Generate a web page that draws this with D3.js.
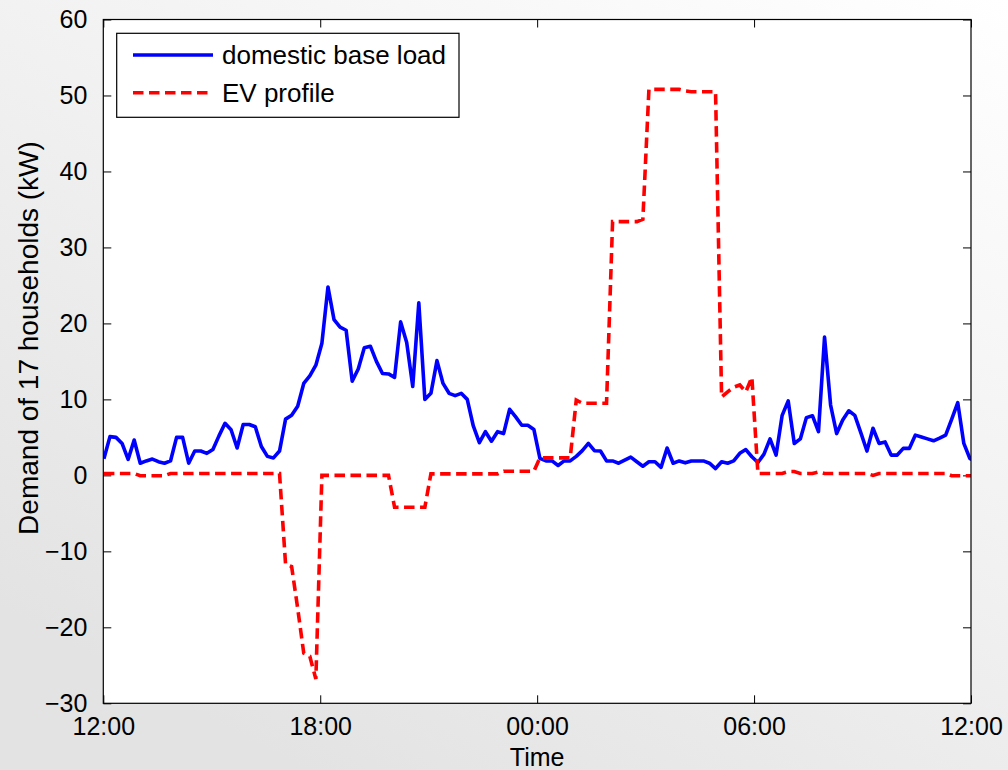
<!DOCTYPE html>
<html>
<head>
<meta charset="utf-8">
<script src="https://cdn.jsdelivr.net/npm/d3@7"></script>
<style>
  body { margin: 0; }
  text { font-family: "Liberation Sans", Arial, sans-serif; fill: #000; }
</style>
</head>
<body>
<div id="chart"></div>
<script>
const widthValue = 1008;
const heightValue = 770;
const margin = {top: 19.5, right: 37, bottom: 66.7, left: 103.3};

// samples as plotted in the source: first at 12:01, roughly every 10 minutes
const sampleStart = 1;     // minutes after 12:00
const sampleStep = 10.05;  // minutes

const baseLoad = [
  2.2, 5.1, 5.0, 4.2, 2.1, 4.65, 1.6, 1.9, 2.15, 1.8,
  1.6, 1.9, 5.0, 5.0, 1.6, 3.2, 3.2, 2.9, 3.4, 5.2,
  6.85, 6.0, 3.6, 6.7, 6.7, 6.4, 3.8, 2.5, 2.3, 3.2,
  7.4, 7.9, 9.1, 12.1, 13.1, 14.5, 17.4, 24.8, 20.5, 19.5,
  19.1, 12.4, 14.0, 16.8, 17.0, 15.0, 13.4, 13.35, 12.9, 20.2,
  17.5, 11.7, 22.7, 10.0, 10.8, 15.1, 12.1, 10.8, 10.5, 10.8,
  10.0, 6.5, 4.3, 5.75, 4.5, 5.75, 5.5, 8.7, 7.7, 6.6,
  6.6, 6.05, 2.24, 1.9, 1.9, 1.3, 1.9, 1.9, 2.5, 3.25,
  4.2, 3.25, 3.2, 1.9, 1.9, 1.6, 2.0, 2.4, 1.8, 1.2,
  1.8, 1.8, 1.05, 3.6, 1.6, 1.9, 1.65, 1.9, 1.9, 1.9,
  1.6, 0.9, 1.8, 1.6, 1.9, 2.9, 3.4, 2.45, 1.7, 2.8,
  4.8, 2.67, 7.9, 9.8, 4.2, 4.8, 7.6, 7.85, 5.75, 18.2,
  9.26, 5.5, 7.3, 8.5, 7.9, 5.6, 3.2, 6.2, 4.2, 4.4,
  2.67, 2.67, 3.55, 3.55, 5.3, 5.05, 4.8, 4.55, 4.9, 5.3,
  7.4, 9.57, 4.2, 2.2, 1.9
];
const evProfile = [
  0.25, 0.25, 0.25, 0.25, 0.25, 0.25, -0.05, -0.05, -0.05, -0.05,
  -0.05, 0.25, 0.25, 0.25, 0.25, 0.25, 0.25, 0.25, 0.25, 0.25,
  0.25, 0.25, 0.25, 0.25, 0.25, 0.25, 0.25, 0.25, 0.25, 0.25,
  -11.7, -12.0, -17.5, -23.4, -23.8, -26.8, 0, 0, 0, 0,
  0, 0, 0, 0, 0, 0, 0, 0, -4.2, -4.2,
  -4.2, -4.2, -4.2, -4.2, 0.2, 0.2, 0.2, 0.2, 0.2, 0.2,
  0.2, 0.2, 0.2, 0.2, 0.2, 0.2, 0.55, 0.55, 0.55, 0.55,
  0.55, 0.55, 2.3, 2.3, 2.3, 2.3, 2.3, 2.3, 9.9, 9.5,
  9.5, 9.5, 9.5, 9.5, 33.4, 33.4, 33.4, 33.4, 33.4, 33.7,
  50.8, 50.8, 50.8, 50.8, 50.8, 50.8, 50.6, 50.5, 50.5, 50.5,
  50.5, 50.5, 10.3, 11.0, 11.6, 11.9, 11.0, 12.9, 0.25, 0.25,
  0.25, 0.25, 0.25, 0.5, 0.5, 0.25, 0.25, 0.25, 0.45, 0.25,
  0.25, 0.25, 0.25, 0.25, 0.25, 0.25, 0.25, 0.0, 0.25, 0.25,
  0.25, 0.25, 0.25, 0.25, 0.25, 0.25, 0.25, 0.25, 0.25, 0.25,
  -0.05, -0.05, -0.05, -0.05, -0.05
];
const yTicks = [-30, -20, -10, 0, 10, 20, 30, 40, 50, 60];
const seriesNames = ["domestic base load", "EV profile"];

const t0 = new Date(2000, 0, 1, 12, 0);
const t1 = new Date(2000, 0, 2, 12, 0);
const times = baseLoad.map((d, i) =>
  new Date(t0.getTime() + (sampleStart + i * sampleStep) * 60000));

const svg = d3.select("#chart")
  .append("svg")
  .attr("width", widthValue)
  .attr("height", heightValue);

// grey figure background
const grad = svg.append("defs").append("linearGradient")
  .attr("id", "bg")
  .attr("x1", 1).attr("y1", 0).attr("x2", 0.3).attr("y2", 1);
grad.append("stop").attr("offset", 0).attr("stop-color", "#ffffff");
grad.append("stop").attr("offset", 1).attr("stop-color", "#e3e3e3");
svg.append("rect")
  .attr("width", widthValue).attr("height", heightValue)
  .attr("fill", "url(#bg)");

var x = d3.scaleTime()
  .domain([t0, t1])
  .range([margin.left, widthValue - margin.right]);
var y = d3.scaleLinear()
  .domain([-30, 60])
  .range([heightValue - margin.bottom, margin.top]);

const x0 = margin.left, x1 = widthValue - margin.right;
const y0 = margin.top, y1 = heightValue - margin.bottom;

svg.append("rect")
  .attr("x", x0).attr("y", y0)
  .attr("width", x1 - x0).attr("height", y1 - y0)
  .attr("fill", "white");

const tickLen = 8;
const xTickVals = d3.timeHour.every(6).range(t0, d3.timeMinute.offset(t1, 1));
const fmt = d3.timeFormat("%H:%M");

// axes (MATLAB style, ticks inside on all sides)
function styleAxis(g) {
  g.select(".domain").remove();
  g.selectAll(".tick line").attr("stroke", "#000").attr("stroke-width", 1);
  g.selectAll(".tick text")
    .style("font-family", "'Liberation Sans', Arial, sans-serif")
    .style("font-size", "25px")
    .attr("fill", "#000");
}

svg.append("g")
  .attr("transform", `translate(0,${y1})`)
  .call(d3.axisBottom(x).tickValues(xTickVals).tickFormat(fmt)
    .tickSizeInner(-tickLen).tickSizeOuter(0).tickPadding(14))
  .call(styleAxis);
svg.append("g")
  .attr("transform", `translate(0,${y0})`)
  .call(d3.axisTop(x).tickValues(xTickVals).tickFormat("")
    .tickSizeInner(-tickLen).tickSizeOuter(0))
  .call(styleAxis);
svg.append("g")
  .attr("transform", `translate(${x0},0)`)
  .call(d3.axisLeft(y).tickValues(yTicks)
    .tickSizeInner(-tickLen).tickSizeOuter(0).tickPadding(16))
  .call(styleAxis);
svg.append("g")
  .attr("transform", `translate(${x1},0)`)
  .call(d3.axisRight(y).tickValues(yTicks).tickFormat("")
    .tickSizeInner(-tickLen).tickSizeOuter(0))
  .call(styleAxis);

// clip to plot box
svg.append("clipPath").attr("id", "clip")
  .append("rect").attr("x", x0).attr("y", y0)
  .attr("width", x1 - x0).attr("height", y1 - y0);

const line = d3.line()
  .x((d, i) => x(times[i]))
  .y(d => y(d));

svg.append("path")
  .datum(baseLoad)
  .attr("clip-path", "url(#clip)")
  .attr("fill", "none")
  .attr("stroke", "#0000ff")
  .attr("stroke-width", 3.6)
  .attr("stroke-linejoin", "round")
  .attr("d", line);

svg.append("path")
  .datum(evProfile)
  .attr("clip-path", "url(#clip)")
  .attr("fill", "none")
  .attr("stroke", "#ff0000")
  .attr("stroke-width", 3.6)
  .attr("stroke-dasharray", "10.5,5.5")
  .attr("d", line);

// plot box
svg.append("rect")
  .attr("x", x0).attr("y", y0)
  .attr("width", x1 - x0).attr("height", y1 - y0)
  .attr("fill", "none").attr("stroke", "#000").attr("stroke-width", 1.2);

// axis labels
svg.append("text")
  .attr("x", (x0 + x1) / 2).attr("y", 766)
  .attr("text-anchor", "middle")
  .style("font-size", "25px")
  .text("Time");
svg.append("text")
  .attr("transform", "translate(38,338) rotate(-90)")
  .attr("text-anchor", "middle")
  .style("font-size", "28px")
  .text("Demand of 17 households (kW)");

// legend
const legend = svg.append("g");
legend.append("rect")
  .attr("x", 116.7).attr("y", 33.3)
  .attr("width", 342.3).attr("height", 84)
  .attr("fill", "white").attr("stroke", "#000").attr("stroke-width", 1.2);
const legColors = ["#0000ff", "#ff0000"];
const legDash = [null, "10.5,5.5"];
seriesNames.forEach(function(name, i) {
  const ly = 55 + i * 37.7;
  legend.append("line")
    .attr("x1", 133).attr("x2", 213)
    .attr("y1", ly).attr("y2", ly)
    .attr("stroke", legColors[i])
    .attr("stroke-width", 3.6)
    .attr("stroke-dasharray", legDash[i]);
  legend.append("text")
    .attr("x", 222).attr("y", ly + 9)
    .style("font-size", "26px")
    .text(name);
});
</script>
</body>
</html>
